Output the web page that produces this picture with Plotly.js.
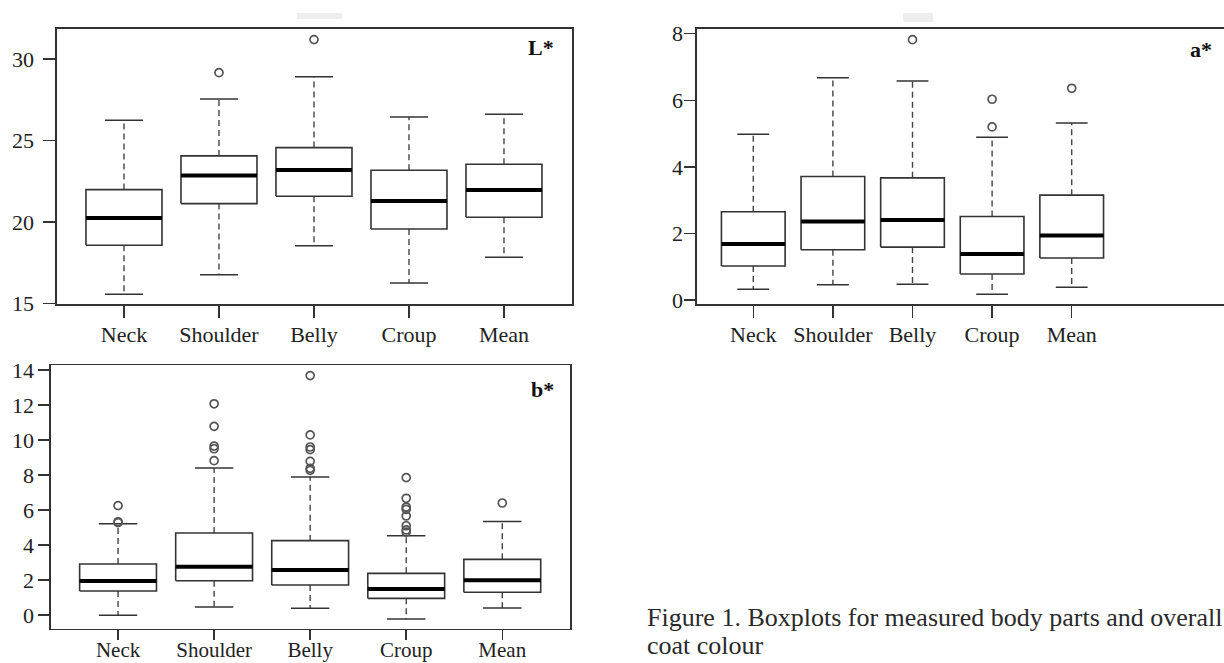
<!DOCTYPE html>
<html>
<head>
<meta charset="utf-8">
<script src="https://cdn.plot.ly/plotly-3.0.1.min.js"></script>
<style>
  html, body { margin: 0; padding: 0; background: #fff; }
  #chart { width: 1224px; height: 663px; }
</style>
</head>
<body>
<div id="chart"></div>
<script>
// ---------- data ----------
const categories = ['Neck', 'Shoulder', 'Belly', 'Croup', 'Mean'];

// L*
const L_lower  = [15.55, 16.76, 18.54, 16.25, 17.83];
const L_q1     = [18.56, 21.12, 21.57, 19.56, 20.28];
const L_median = [20.24, 22.84, 23.19, 21.28, 21.96];
const L_q3     = [21.98, 24.05, 24.56, 23.17, 23.54];
const L_upper  = [26.24, 27.54, 28.91, 26.44, 26.60];
const L_outliers = [[], [29.16], [31.19], [], []];

// a*
const a_lower  = [0.32, 0.46, 0.47, 0.17, 0.38];
const a_q1     = [1.02, 1.51, 1.59, 0.78, 1.26];
const a_median = [1.68, 2.36, 2.40, 1.38, 1.94];
const a_q3     = [2.65, 3.71, 3.67, 2.51, 3.15];
const a_upper  = [4.98, 6.68, 6.58, 4.89, 5.32];
const a_outliers = [[], [], [7.82], [5.20, 6.03], [6.36]];

// b*
const b_lower  = [-0.02, 0.46, 0.38, -0.23, 0.40];
const b_q1     = [1.37, 1.96, 1.71, 0.95, 1.30];
const b_median = [1.94, 2.76, 2.57, 1.49, 1.98];
const b_q3     = [2.91, 4.69, 4.25, 2.38, 3.18];
const b_upper  = [5.22, 8.40, 7.89, 4.53, 5.35];
const b_outliers = [
  [5.28, 5.33, 6.25],
  [8.82, 9.50, 9.65, 10.78, 12.07],
  [8.27, 8.38, 8.78, 9.45, 9.60, 10.29, 13.68],
  [4.74, 4.86, 5.10, 5.66, 6.04, 6.17, 6.67, 7.85],
  [6.40]
];

const panelLabels = ['L*', 'a*', 'b*'];
const captionLine1 = 'Figure 1. Boxplots for measured body parts and overall';
const captionLine2 = 'coat colour';

// ---------- style ----------
const W = 1224, H = 663;
const FONT = 'Liberation Serif, Times New Roman, serif';
const BOX_HALF = 0.4, CAP_HALF = 0.2;
const pxX = p => p / W;
const pxY = p => 1 - p / H;

function panelTraces(ax, lower, q1, med, q3, upper, outl) {
  const xa = 'x' + ax, ya = 'y' + ax;
  const wx = [], wy = [], bx = [], by = [], mx = [], my = [], cx = [], cy = [], ox = [], oy = [];
  categories.forEach((c, k) => {
    const i = k + 1;
    wx.push(i, i, null, i, i, null);
    wy.push(q3[k], upper[k], null, q1[k], lower[k], null);
    bx.push(i - BOX_HALF, i + BOX_HALF, i + BOX_HALF, i - BOX_HALF, i - BOX_HALF, null);
    by.push(q1[k], q1[k], q3[k], q3[k], q1[k], null);
    mx.push(i - BOX_HALF, i + BOX_HALF, null);
    my.push(med[k], med[k], null);
    cx.push(i - CAP_HALF, i + CAP_HALF, null, i - CAP_HALF, i + CAP_HALF, null);
    cy.push(upper[k], upper[k], null, lower[k], lower[k], null);
    outl[k].forEach(v => { ox.push(i); oy.push(v); });
  });
  return [
    {type: 'scatter', mode: 'lines', x: wx, y: wy, xaxis: xa, yaxis: ya,
     line: {color: '#444', width: 1.4, dash: '6px,4px'}, hoverinfo: 'skip'},
    {type: 'scatter', mode: 'lines', x: bx, y: by, xaxis: xa, yaxis: ya,
     line: {color: '#333', width: 1.6}, hoverinfo: 'skip'},
    {type: 'scatter', mode: 'lines', x: mx, y: my, xaxis: xa, yaxis: ya,
     line: {color: '#000', width: 4}, hoverinfo: 'skip'},
    {type: 'scatter', mode: 'lines', x: cx, y: cy, xaxis: xa, yaxis: ya,
     line: {color: '#333', width: 1.5}, hoverinfo: 'skip'},
    {type: 'scatter', mode: 'markers', x: ox, y: oy, xaxis: xa, yaxis: ya,
     marker: {symbol: 'circle-open', size: 8, color: '#555', line: {width: 1.7, color: '#555'}},
     hoverinfo: 'skip'}
  ];
}

const data = [].concat(
  panelTraces('', L_lower, L_q1, L_median, L_q3, L_upper, L_outliers),
  panelTraces('2', a_lower, a_q1, a_median, a_q3, a_upper, a_outliers),
  panelTraces('3', b_lower, b_q1, b_median, b_q3, b_upper, b_outliers)
);

function xAxis(domain, range, anchor, mirror, ticklen, standoff, fsize) {
  return {
    domain: domain, range: range, anchor: anchor,
    tickvals: [1, 2, 3, 4, 5], ticktext: categories,
    showgrid: false, zeroline: false,
    showline: true, linecolor: '#333', linewidth: 1.6, mirror: mirror,
    ticks: 'outside', ticklen: ticklen, tickwidth: 1.5, tickcolor: '#333',
    ticklabelstandoff: standoff,
    tickfont: {family: FONT, size: fsize, color: '#222'}
  };
}
function yAxis(domain, range, anchor, dtick, mirror, ticklen, standoff) {
  return {
    domain: domain, range: range, anchor: anchor,
    dtick: dtick, tick0: 0,
    showgrid: false, zeroline: false,
    showline: true, linecolor: '#333', linewidth: 1.6, mirror: mirror,
    ticks: 'outside', ticklen: ticklen, tickwidth: 1.5, tickcolor: '#333',
    ticklabelstandoff: standoff,
    tickfont: {family: FONT, size: 22, color: '#222'}
  };
}

const layout = {
  width: W, height: H,
  margin: {l: 0, r: 0, t: 0, b: 0},
  paper_bgcolor: '#fff', plot_bgcolor: '#fff',
  showlegend: false,
  xaxis:  xAxis([pxX(57), pxX(572)], [0.295, 5.716], 'y', true, 12, -2, 22),
  yaxis:  yAxis([pxY(304), pxY(29)], [14.957, 31.84], 'x', 5, true, 12, 5),
  xaxis2: xAxis([pxX(697), 1], [0.293, 6.913], 'y2', true, 12, -2, 22),
  yaxis2: yAxis([pxY(304), pxY(29)], [-0.12, 8.141], 'x2', 2, false, 11, -3),
  xaxis3: xAxis([pxX(51), pxX(570)], [0.302, 5.705], 'y3', true, 10, -9, 21),
  yaxis3: yAxis([pxY(628.7), pxY(365.3)], [-0.783, 14.269], 'x3', 2, true, 11, 0),
  shapes: [
    {type: 'rect', xref: 'paper', yref: 'paper', x0: pxX(297), x1: pxX(342), y0: pxY(19), y1: pxY(13),
     fillcolor: '#eeeeee', line: {width: 0}, layer: 'below'},
    {type: 'rect', xref: 'paper', yref: 'paper', x0: pxX(903), x1: pxX(933), y0: pxY(22), y1: pxY(13),
     fillcolor: '#eeeeee', line: {width: 0}, layer: 'below'}
  ],
  annotations: [
    {text: '<b>' + panelLabels[0] + '</b>', xref: 'paper', yref: 'paper', x: pxX(556), y: pxY(48),
     xanchor: 'right', yanchor: 'middle', showarrow: false, font: {family: FONT, size: 22, color: '#111'}},
    {text: '<b>' + panelLabels[1] + '</b>', xref: 'paper', yref: 'paper', x: pxX(1214), y: pxY(50),
     xanchor: 'right', yanchor: 'middle', showarrow: false, font: {family: FONT, size: 22, color: '#111'}},
    {text: '<b>' + panelLabels[2] + '</b>', xref: 'paper', yref: 'paper', x: pxX(556), y: pxY(389),
     xanchor: 'right', yanchor: 'middle', showarrow: false, font: {family: FONT, size: 22, color: '#111'}},
    {text: captionLine1, xref: 'paper', yref: 'paper', x: pxX(645), y: pxY(617),
     xanchor: 'left', yanchor: 'middle', showarrow: false, font: {family: FONT, size: 26, color: '#2a2a2a'}},
    {text: captionLine2, xref: 'paper', yref: 'paper', x: pxX(645), y: pxY(662),
     xanchor: 'left', yanchor: 'bottom', showarrow: false, font: {family: FONT, size: 26, color: '#2a2a2a'}}
  ]
};

Plotly.newPlot('chart', data, layout, {staticPlot: true, displayModeBar: false});
</script>
</body>
</html>
